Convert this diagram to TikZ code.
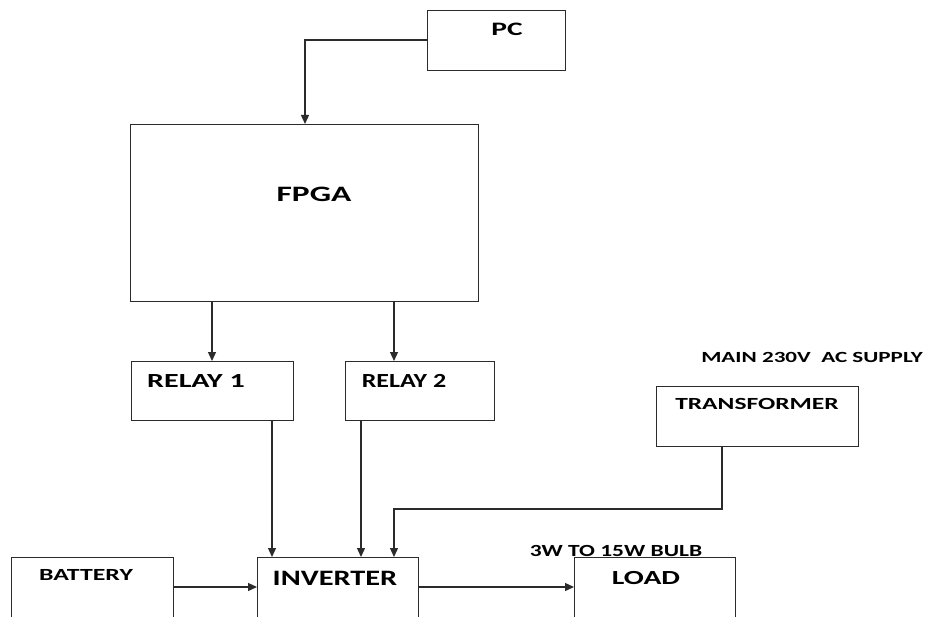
\documentclass[tikz,border=0pt]{standalone}
\usepackage{fontspec}
\setmainfont{Carlito}
\usepackage{graphicx}
\usepackage{tikz}
\usetikzlibrary{arrows.meta,calc}
\definecolor{lineblk}{HTML}{2B2B2B}
\newcommand{\widetext}[3]{{\fontsize{#1}{#1}\selectfont\scalebox{#2}[1]{#3}}}
\tikzset{every node/.append style={font=\bfseries}}

\begin{document}
\begin{tikzpicture}[>={Triangle[length=9pt,width=8pt]},x=1pt,y=-1pt,
    blockbox/.style={draw=lineblk,line width=1.3pt,inner sep=0pt,anchor=north west},
    boxtitle/.style={inner sep=0pt,anchor=base},
    wire/.style={->,lineblk,line width=1.3pt}]
  \useasboundingbox (0,0) rectangle (925,617);
  \clip (0,0) rectangle (925,617);
  % blocks, placed at their top left corners (pixels of the sheet)
  \node[blockbox,minimum width=138pt,minimum height=60pt] (pc) at (427,10) {};
  \node[blockbox,minimum width=348pt,minimum height=177pt] (fpga) at (130,124) {};
  \node[blockbox,minimum width=162pt,minimum height=59pt] (relay1) at (131,361) {};
  \node[blockbox,minimum width=149pt,minimum height=59pt] (relay2) at (345,361) {};
  \node[blockbox,minimum width=202pt,minimum height=60pt] (trafo) at (656,386) {};
  \node[blockbox,minimum width=162pt,minimum height=80pt] (battery) at (11,557) {};
  \node[blockbox,minimum width=161pt,minimum height=80pt] (inverter) at (257,557) {};
  \node[blockbox,minimum width=161pt,minimum height=80pt] (load) at (574,557) {};
  % titles (baselines)
  \node[boxtitle] (pctxt) at (507,36) {\widetext{19}{1.55}{PC}};
  \node[boxtitle] (fpgatxt) at (314,202) {\widetext{22}{1.52}{FPGA}};
  \node[boxtitle] (relay1txt) at (196,387) {\widetext{20}{1.5}{RELAY 1}};
  \node[boxtitle] (relay2txt) at (404,387) {\widetext{20}{1.3}{RELAY 2}};
  \node[boxtitle] (trafotxt) at (757,409) {\widetext{17}{1.5}{TRANSFORMER}};
  \node[boxtitle] (batterytxt) at (86,580) {\widetext{17}{1.52}{BATTERY}};
  \node[boxtitle] (invertertxt) at (335,585) {\widetext{22}{1.38}{INVERTER}};
  \node[boxtitle] (loadtxt) at (646,584) {\widetext{20}{1.48}{LOAD}};
  \node[boxtitle] (mains) at (812,362) {\widetext{15.5}{1.49}{MAIN 230V~ AC SUPPLY}};
  \node[boxtitle] (bulb) at (616,556) {\widetext{17}{1.38}{3W TO 15W BULB}};
  % connectors
  \coordinate (pcbend) at (305,40);
  \draw[wire] (pc.west |- pcbend) -- (pcbend) -- (pcbend |- fpga.north);
  \draw[wire] (fpga.south -| 212,0) -- (relay1.north -| 212,0);
  \draw[wire] (fpga.south -| 394,0) -- (relay2.north -| 394,0);
  \draw[wire] (relay1.south -| 272,0) -- (inverter.north -| 272,0);
  \draw[wire] (relay2.south -| 361,0) -- (inverter.north -| 361,0);
  \coordinate (trbend) at (722,509);
  \draw[wire] (trafo.south -| trbend) -- (trbend) -- (394,509) -- (inverter.north -| 394,0);
  \draw[wire] (battery.east |- 0,587) -- (inverter.west |- 0,587);
  \draw[wire] (inverter.east |- 0,587) -- (load.west |- 0,587);
\end{tikzpicture}
\end{document}
